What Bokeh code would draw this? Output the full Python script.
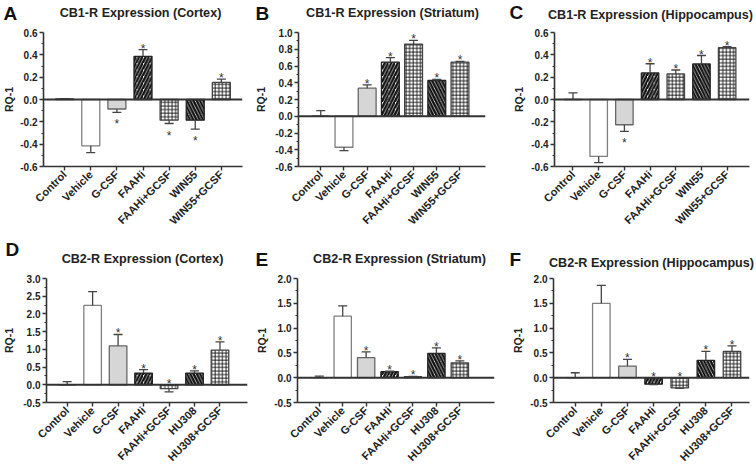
from bokeh.plotting import figure
from bokeh.models import (ColumnDataSource, Range1d, FixedTicker, Span, NumeralTickFormatter)
from bokeh.layouts import row, column
from bokeh.embed import file_html
from bokeh.resources import INLINE
from bokeh.core.properties import value
from math import pi

# ---------------- data ----------------
cb1_groups = ["Control", "Vehicle", "G-CSF", "FAAHi", "FAAHi+GCSF", "WIN55", "WIN55+GCSF"]
cb2_groups = ["Control", "Vehicle", "G-CSF", "FAAHi", "FAAHi+GCSF", "HU308", "HU308+GCSF"]

a_mean = [0.005, -0.415, -0.085, 0.387, -0.185, -0.185, 0.153]
a_err = [0.003, 0.06, 0.03, 0.06, 0.03, 0.08, 0.03]
b_mean = [0.0, -0.37, 0.335, 0.646, 0.86, 0.427, 0.646]
b_err = [0.068, 0.04, 0.04, 0.055, 0.045, 0.012, 0.01]
c_mean = [0.0, -0.51, -0.226, 0.238, 0.229, 0.319, 0.464]
c_err = [0.06, 0.055, 0.06, 0.082, 0.035, 0.075, 0.01]
d_mean = [0.0, 2.24, 1.1, 0.33, -0.11, 0.33, 0.98]
d_err = [0.09, 0.39, 0.32, 0.1, 0.09, 0.06, 0.23]
e_mean = [0.0, 1.24, 0.405, 0.12, 0.02, 0.49, 0.30]
e_err = [0.03, 0.21, 0.115, 0.01, 0.005, 0.11, 0.04]
f_mean = [0.0, 1.5, 0.235, -0.13, -0.205, 0.35, 0.53]
f_err = [0.1, 0.36, 0.135, 0.01, 0.01, 0.18, 0.11]
significant = [False, False, True, True, True, True, True]

titles = ["CB1-R Expression (Cortex)", "CB1-R Expression (Striatum)", "CB1-R Expression (Hippocampus)",
          "CB2-R Expression (Cortex)", "CB2-R Expression (Striatum)", "CB2-R Expression (Hippocampus)"]
letters = ["A", "B", "C", "D", "E", "F"]
y_label = "RQ-1"
y_ranges = [(-0.6, 0.6), (-0.6, 1.0), (-0.6, 0.6), (-0.5, 3.0), (-0.5, 2.0), (-0.5, 2.0)]
cb1_ticks = [-0.6, -0.4, -0.2, 0.0, 0.2, 0.4, 0.6]
cb1_ticks_b = [-0.6, -0.4, -0.2, 0.0, 0.2, 0.4, 0.6, 0.8, 1.0]
cb2_ticks_d = [-0.5, 0.0, 0.5, 1.0, 1.5, 2.0, 2.5, 3.0]
cb2_ticks = [-0.5, 0.0, 0.5, 1.0, 1.5, 2.0]
y_ticks = [cb1_ticks, cb1_ticks_b, cb1_ticks, cb2_ticks_d, cb2_ticks, cb2_ticks]

# ---------------- styles / layout ----------------
FONT = "Liberation Sans"
AX = "#333333"
TXT = "#222222"
bar_fill = ["white", "white", "#d6d6d6", "white", "white", "white", "white"]
bar_line = ["#333333", "#808080", "#666666", "#222222", "#444444", "#222222", "#444444"]
bar_hatch = [" ", " ", " ", "/", "+", "\\", "+"]
bar_hscale = [6, 6, 6, 6.5, 3.6, 6.5, 3.6]
bar_hweight = [1, 1, 1, 2.4, 0.9, 2.4, 0.9]

W = 756
STRIP_H = [24, 36]
PANEL_H = [211, 199]
panel_w = [252, 252, 252, 252, 252, 252]
# strip text positions: title centre (x, y), letter (left x, top y)
title_pos = [(140, 12), (392, 12), (650, 14), (142, 23), (399, 23), (651, 27)]
letter_pos = [(3, 2), (255, 2), (509, 1), (5, 3), (255, 13), (509, 13)]

panels = [
    dict(l=42, r=10, t=8, b=69, xr=(-0.81, 6.81), bw=0.69, ls=2, star_mode="away"),
    dict(l=45, r=19, t=8, b=69, xr=(-0.96, 7.1), bw=0.77, ls=5, star_mode="away"),
    dict(l=50, r=7, t=8, b=69, xr=(-0.72, 6.87), bw=0.68, ls=3, star_mode="away"),
    dict(l=45, r=5, t=7, b=62, xr=(-0.81, 7.08), bw=0.69, ls=5, star_mode="up"),
    dict(l=45, r=10, t=7, b=62, xr=(-0.93, 7.48), bw=0.74, ls=3, star_mode="up"),
    dict(l=49, r=7, t=7, b=62, xr=(-0.83, 6.67), bw=0.67, ls=3, star_mode="up"),
]

means = [a_mean, b_mean, c_mean, d_mean, e_mean, f_mean]
errs = [a_err, b_err, c_err, d_err, e_err, f_err]
groups = [cb1_groups, cb1_groups, cb1_groups, cb2_groups, cb2_groups, cb2_groups]


def make_strip(r):
    h = STRIP_H[r]
    s = figure(width=W, height=h, output_backend="svg", toolbar_location=None,
               x_range=Range1d(0, W), y_range=Range1d(h, 0),
               x_axis_location=None, y_axis_location=None, min_border=0)
    s.outline_line_color = None
    s.grid.visible = False
    s.title.visible = False
    ks = [3 * r, 3 * r + 1, 3 * r + 2]
    s.text(x=[title_pos[k][0] for k in ks], y=[title_pos[k][1] for k in ks],
           text=[titles[k] for k in ks], text_align="center", text_baseline="middle",
           text_font=value(FONT), text_font_style="bold", text_font_size="12.6px", text_color=TXT)
    s.text(x=[letter_pos[k][0] for k in ks], y=[letter_pos[k][1] for k in ks],
           text=[letters[k] for k in ks], text_align="left", text_baseline="top",
           text_font=value(FONT), text_font_style="bold", text_font_size="19px", text_color="#111111")
    return s


def make_panel(k):
    P = panels[k]
    m, e, g = means[k], errs[k], groups[k]
    xs = list(range(len(g)))
    ends = [mv + ev if mv >= 0 else mv - ev for mv, ev in zip(m, e)]

    p = figure(width=panel_w[k], height=PANEL_H[k // 3], output_backend="svg", toolbar_location=None,
               x_range=Range1d(*P["xr"]), y_range=Range1d(*y_ranges[k]),
               min_border_left=P["l"], min_border_right=P["r"],
               min_border_top=P["t"], min_border_bottom=P["b"])
    p.outline_line_color = None
    p.grid.visible = False
    p.title.visible = False
    p.background_fill_color = "white"
    p.border_fill_color = "white"

    src = ColumnDataSource(dict(x=xs, top=m, end=ends, fill=bar_fill, line=bar_line,
                                hp=bar_hatch, hs=bar_hscale, hw=bar_hweight))
    p.vbar(x="x", top="top", bottom=0, width=P["bw"], source=src,
           fill_color="fill", line_color="line", line_width=1.3,
           hatch_pattern="hp", hatch_scale="hs", hatch_weight="hw", hatch_color="#111111")

    p.segment(x0="x", y0="top", x1="x", y1="end", source=src, line_color="#444444", line_width=1.3)
    p.scatter(x="x", y="end", source=src, marker="dash", size=9, line_color="#444444", line_width=1.3)

    sx, sy, so = [], [], []
    for i, s in enumerate(significant):
        if not s:
            continue
        if P["star_mode"] == "away" and m[i] < 0:
            sx.append(xs[i]); sy.append(ends[i]); so.append(12)
        else:
            sx.append(xs[i]); sy.append(max(ends[i], 0)); so.append(-1)
    p.text(x=sx, y=sy, text=["*"] * len(sx), y_offset=so, text_align="center",
           text_baseline="alphabetic", text_font_size="12px", text_color="#333333",
           text_font=value(FONT))

    p.add_layout(Span(location=0, dimension="width", line_color=AX, line_width=2))

    yax = p.yaxis[0]
    ticks = y_ticks[k]
    minors = [(a + b) / 2 for a, b in zip(ticks[:-1], ticks[1:])]
    yax.ticker = FixedTicker(ticks=ticks, minor_ticks=minors)
    yax.formatter = NumeralTickFormatter(format="0.0")
    yax.axis_label = y_label
    yax.axis_label_text_font = FONT
    yax.axis_label_text_font_style = "bold"
    yax.axis_label_text_font_size = "10.5px"
    yax.axis_label_text_color = TXT
    yax.axis_label_standoff = P["ls"]
    xax = p.xaxis[0]
    xax.ticker = FixedTicker(ticks=xs, minor_ticks=[])
    xax.major_label_overrides = {i: name for i, name in zip(xs, g)}
    xax.major_label_orientation = pi / 4
    for ax in (xax, yax):
        ax.axis_line_color = AX
        ax.axis_line_width = 1.6
        ax.major_tick_line_color = AX
        ax.major_tick_line_width = 1.4
        ax.minor_tick_line_color = AX
        ax.minor_tick_line_width = 1.2
        ax.major_tick_in = 0
        ax.major_tick_out = 4
        ax.minor_tick_in = 0
        ax.minor_tick_out = 2
        ax.major_label_text_font = FONT
        ax.major_label_text_font_style = "bold"
        ax.major_label_text_color = TXT
        ax.major_label_standoff = 2
    yax.major_label_text_font_size = "10px"
    xax.major_label_text_font_size = "11px"
    return p


figs = [make_panel(k) for k in range(6)]
layout = column(make_strip(0), row(*figs[0:3]), make_strip(1), row(*figs[3:6]))

open("out.html", "w").write(file_html(layout, INLINE))
